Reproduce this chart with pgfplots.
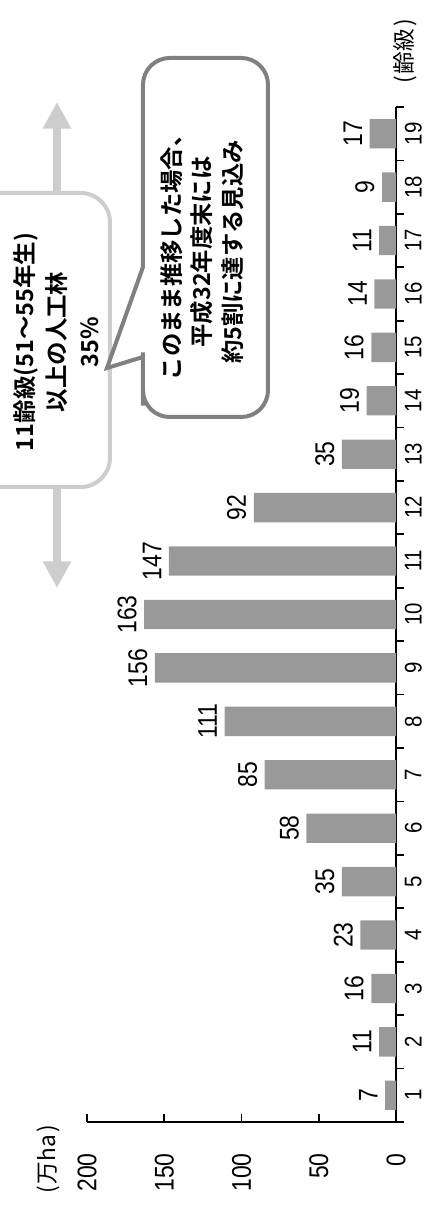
\documentclass[border=0pt]{standalone}
\usepackage{graphicx}
\usepackage{fontspec}
\setmainfont{Liberation Sans}[FakeStretch=0.85]
\newfontfamily\jp{Noto Sans CJK JP}[BoldFont=* Bold]
\usepackage{pgfplots}
\pgfplotsset{compat=1.18}
\usetikzlibrary{arrows.meta}

\definecolor{barfill}{RGB}{153,153,153}
\definecolor{lightbox}{RGB}{205,205,205}
\definecolor{darkbox}{RGB}{128,128,128}

\newcommand{\numfont}{\fontsize{20.25pt}{20.25pt}\selectfont}
\newcommand{\catfont}{\fontsize{18pt}{18pt}\selectfont}
\newcommand{\unitfont}{\jp\fontsize{17pt}{17pt}\selectfont}

\begin{document}
\rotatebox{90}{%
\begin{tikzpicture}[x=0.75pt,y=0.75pt]
\begin{axis}[
  at={(65.25pt,22.5pt)}, anchor=south west,
  scale only axis, width=761.25pt, height=231.75pt,
  xmin=0.5, xmax=19.5, ymin=0, ymax=200,
  axis x line*=bottom, axis y line*=left,
  axis line style={line width=1.3pt, black},
  xtick={0.5,1.5,...,19.5},
  x tick label as interval,
  xticklabels={1,2,3,4,5,6,7,8,9,10,11,12,13,14,15,16,17,18,19},
  ytick={0,50,100,150,200},
  tick align=inside, major tick length=6pt,
  tick style={line width=1.3pt, black},
  /pgf/number format/assume math mode=true,
  yticklabel style={font=\numfont, anchor=east, inner sep=0pt, xshift=-23.25pt},
  xticklabel style={font=\catfont, anchor=north, inner sep=0pt, yshift=-0.5pt},
  ybar, bar width=22pt,
  nodes near coords,
  every node near coord/.append style={font=\numfont, inner sep=0pt, anchor=south, yshift=5.5pt},
  clip=false,
]
\addplot[fill=barfill, draw=none] coordinates {
  (1,7) (2,11) (3,16) (4,23) (5,35) (6,58) (7,85) (8,111) (9,156) (10,163)
  (11,147) (12,92) (13,35) (14,19) (15,16) (16,14) (17,11) (18,9) (19,17)
};
\end{axis}

% units
\node[font=\unitfont, inner sep=0pt] at (49.5,377.5) {(\kern1.5pt 万ha\kern1.5pt)};
\node[font=\unitfont, inner sep=0pt] at (1157.5,21) {(\kern1.5pt 齢級\kern1.5pt)};

% range arrows for age class 11 and above
\draw[lightbox, line width=6pt, -{Triangle[width=20pt,length=20pt]}] (1016,369) -- (1107,369);
\draw[lightbox, line width=6pt, -{Triangle[width=20pt,length=20pt]}] (722,369) -- (621,369);
\draw[lightbox, line width=3pt, fill=white, rounded corners=22pt] (722,316) rectangle (1016,480);
\node[font=\jp\bfseries\fontsize{17.6pt}{24.4pt}\selectfont, align=center, inner sep=0pt] at (867,370)
  {11齢級(51～55年生)\\以上の人工林\\35\%};

% callout with outlook
\draw[darkbox, line width=3pt, fill=white]
  (852,283) -- (841,319) -- (942,283)
  [rounded corners=20pt] -- (1151,283) -- (1151,158) -- (792,158) -- (792,283) -- (830,283)
  [sharp corners] -- cycle;
\node[font=\jp\bfseries\fontsize{17.5pt}{22.9pt}\selectfont, align=center, inner sep=0pt] at (957,224)
  {このまま推移した場合、\\平成32年度末には\\約5割に達する見込み};

\pgfresetboundingbox
\path[use as bounding box] (0,0) rectangle (1209,426);
\end{tikzpicture}%
}
\end{document}
